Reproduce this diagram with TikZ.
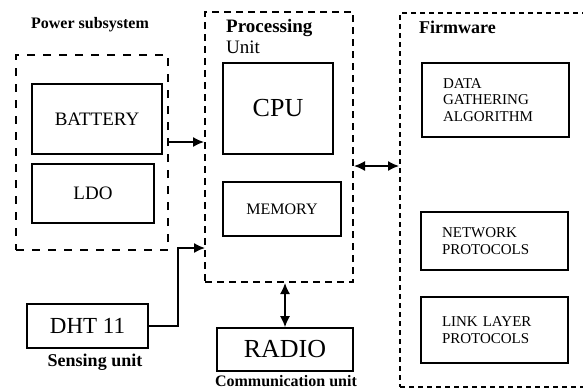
\documentclass[tikz,border=0pt]{standalone}
\usepackage{fontspec}
\setmainfont{Liberation Serif}
\usetikzlibrary{arrows.meta}

\begin{document}
\begin{tikzpicture}[x=1pt,y=-1pt,
    box node/.style={draw,line width=1.6pt,inner sep=0pt},
    group node/.style={draw,line width=2pt,inner sep=0pt},
    fw node/.style={box node,align=left,text width=105pt,inner xsep=21pt,font=\fontsize{15}{16.5}\selectfont},
    title node/.style={font=\fontsize{16}{18}\selectfont\bfseries},
    arrow/.style={-{Latex[length=11pt,width=10pt]},line width=1.5pt},
    both arrow/.style={{Latex[length=11pt,width=10pt]}-{Latex[length=11pt,width=10pt]},line width=1.5pt}]
        \useasboundingbox (0,0) rectangle (583,389);
        \clip (0,0) rectangle (583,389);

        % groups
        \node[group node, dash pattern=on 8pt off 8pt, minimum width=152pt, minimum height=195pt] at (92,152.5) (power) {};
        \node[group node, dash pattern=on 7pt off 5pt, minimum width=148pt, minimum height=270pt] at (279,147) (proc) {};
        \node[group node, dash pattern=on 5pt off 4pt, minimum width=190pt, minimum height=374pt] at (495,200) (firm) {};

        % power subsystem
        \node[box node, minimum width=130pt, minimum height=70pt, font=\fontsize{19}{21}\selectfont] at (97,119) (battery) {BATTERY};
        \node[box node, minimum width=122pt, minimum height=59pt, font=\fontsize{19}{21}\selectfont] at (93,193.5) (ldo) {LDO};

        % processing unit
        \node[box node, minimum width=110pt, minimum height=91pt, font=\fontsize{26}{28}\selectfont] at (278,108.5) (cpu) {CPU};
        \node[box node, minimum width=118pt, minimum height=54pt, font=\fontsize{16}{18}\selectfont] at (282,209) (memory) {MEMORY};

        % sensing and radio
        \node[box node, minimum width=121pt, minimum height=44pt, font=\fontsize{23}{25}\selectfont] at (87.5,326) (dht) {DHT 11};
        \node[box node, minimum width=136pt, minimum height=43pt, font=\fontsize{26}{28}\selectfont] at (285,349.5) (radio) {RADIO};

        % firmware
        \node[fw node, minimum height=74pt] at (495.5,100) (data) {DATA\\GATHERING\\ALGORITHM};
        \node[fw node, minimum height=58pt] at (494.5,241) (network) {NETWORK\\PROTOCOLS};
        \node[fw node, minimum height=66pt] at (494.5,330) (link) {LINK LAYER\\PROTOCOLS};

        % titles
        \node[title node] at (90,25) (powerlabel) {Power subsystem};
        \node[anchor=north west, align=left, inner sep=0pt, font=\fontsize{19}{21}\selectfont] at (226,19) (proclabel) {\textbf{Processing}\\Unit};
        \node[title node, anchor=west, inner sep=0pt, font=\fontsize{18}{20}\selectfont\bfseries] at (419,27) (firmlabel) {Firmware};
        \node[title node, font=\fontsize{18}{20}\selectfont\bfseries] at (95,362) (senselabel) {Sensing unit};
        \node[title node] at (286,381) (radiolabel) {Communication unit};

        % connectors
        \coordinate (pwrout) at ([yshift=10.5pt]power.east);
        \coordinate (sensin) at (205,248);
        \coordinate (fwlink) at ([yshift=-19pt]proc.east);
        \draw[arrow] (pwrout) -- (pwrout -| proc.west);
        \draw[arrow] (dht.east) -- ++(29,0) |- (sensin);
        \draw[both arrow] (fwlink) -- (fwlink -| firm.west);
        \draw[both arrow] (radio.north |- proc.south) -- (radio.north);
\end{tikzpicture}
\end{document}
